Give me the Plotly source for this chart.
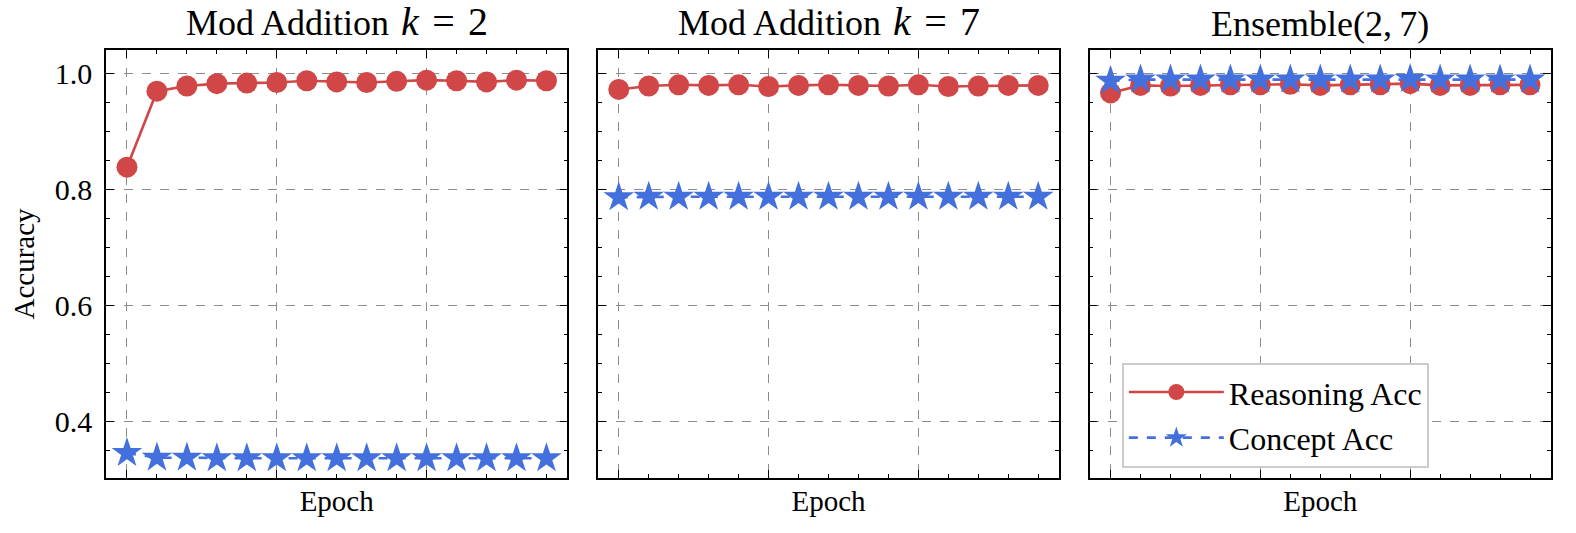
import plotly.graph_objects as go
from plotly.subplots import make_subplots

epochs = list(range(15))

# reasoning / concept accuracy per panel
reason_k2 = [0.838, 0.969, 0.978, 0.982, 0.983, 0.984, 0.987, 0.985, 0.984, 0.986, 0.988, 0.987, 0.985, 0.988, 0.987]
concept_k2 = [0.345, 0.337, 0.337, 0.336, 0.336, 0.336, 0.336, 0.336, 0.336, 0.336, 0.336, 0.336, 0.336, 0.336, 0.336]
reason_k7 = [0.972, 0.978, 0.980, 0.979, 0.980, 0.977, 0.979, 0.980, 0.979, 0.978, 0.980, 0.977, 0.978, 0.979, 0.979]
concept_k7 = [0.786, 0.787, 0.787, 0.787, 0.787, 0.787, 0.787, 0.787, 0.787, 0.787, 0.787, 0.787, 0.787, 0.787, 0.787]
reason_ens = [0.966, 0.979, 0.978, 0.979, 0.980, 0.980, 0.981, 0.979, 0.980, 0.980, 0.982, 0.979, 0.979, 0.980, 0.980]
concept_ens = [0.987, 0.989, 0.989, 0.989, 0.989, 0.989, 0.989, 0.989, 0.989, 0.989, 0.990, 0.989, 0.989, 0.989, 0.989]

# math part a bit larger and wider spaced, like mathtext
math_k2 = "<span style='font-size:40px'><i>k</i>\u2004=\u20042</span>"
math_k7 = "<span style='font-size:40px'><i>k</i>\u2004=\u20047</span>"
titles = ["Mod Addition\u2004" + math_k2, "Mod Addition\u2004" + math_k7, "Ensemble(2,\u20097)"]
panels = [(reason_k2, concept_k2), (reason_k7, concept_k7), (reason_ens, concept_ens)]

RED = "#d14646"
BLUE = "#4370dc"
FONT = "Liberation Serif"

fig = make_subplots(rows=1, cols=3, shared_yaxes=True, horizontal_spacing=0.021,
                    subplot_titles=titles)

for i, (reason, concept) in enumerate(panels):
    col = i + 1
    fig.add_trace(go.Scatter(x=epochs, y=reason, mode="lines+markers", name="Reasoning Acc",
                             legendgroup="reason",
                             line=dict(color=RED, width=2.6),
                             marker=dict(symbol="circle", size=21, color=RED),
                             showlegend=(i == 2)), row=1, col=col)
    fig.add_trace(go.Scatter(x=epochs, y=concept, mode="lines+markers", name="Concept Acc",
                             legendgroup="concept",
                             line=dict(color=BLUE, width=2.6, dash="dash"),
                             marker=dict(symbol="star", size=23, color=BLUE),
                             showlegend=(i == 2)), row=1, col=col)

axis_common = dict(showline=True, linecolor="black", linewidth=1.6, mirror="allticks",
                   ticks="inside", ticklen=8, tickwidth=1.3, tickcolor="black",
                   showgrid=True, gridcolor="#8c8c8c", griddash="dash", gridwidth=1,
                   zeroline=False, automargin=False)

fig.update_xaxes(range=[-0.7, 14.7], tickmode="array", tickvals=[0, 5, 10], showticklabels=False,
                 minor=dict(ticks="inside", dtick=1, tick0=0, ticklen=4, tickwidth=1.1, tickcolor="black",
                            showgrid=False),
                 title_text="Epoch", title_font=dict(size=29), title_standoff=12, **axis_common)
fig.update_yaxes(range=[0.302, 1.04], tick0=0, dtick=0.2, tickformat=".1f",
                 tickfont=dict(size=30), ticklabelstandoff=6,
                 minor=dict(ticks="inside", dtick=0.05, tick0=0, ticklen=4, tickwidth=1.1, tickcolor="black",
                            showgrid=False),
                 **axis_common)
fig.update_yaxes(title_text="Accuracy", title_font=dict(size=29), title_standoff=12, row=1, col=1)

for ann in fig.layout.annotations:
    ann.font = dict(size=36, family=FONT, color="black")
    ann.yshift = 4

fig.update_layout(
    width=1576, height=533,
    margin=dict(l=106, r=25, t=50, b=55),
    paper_bgcolor="white", plot_bgcolor="white",
    font=dict(family=FONT, size=29, color="black"),
    legend=dict(x=0.703, y=0.024, xanchor="left", yanchor="bottom",
                bgcolor="white", bordercolor="#cccccc", borderwidth=2,
                font=dict(size=32), itemwidth=95, traceorder="grouped", tracegroupgap=1),
)

# drop the browser's default body margin so the figure sits at the page corner
fig.write_html("out.html", config={"displayModeBar": False},
               post_script="document.body.style.margin='0';")
